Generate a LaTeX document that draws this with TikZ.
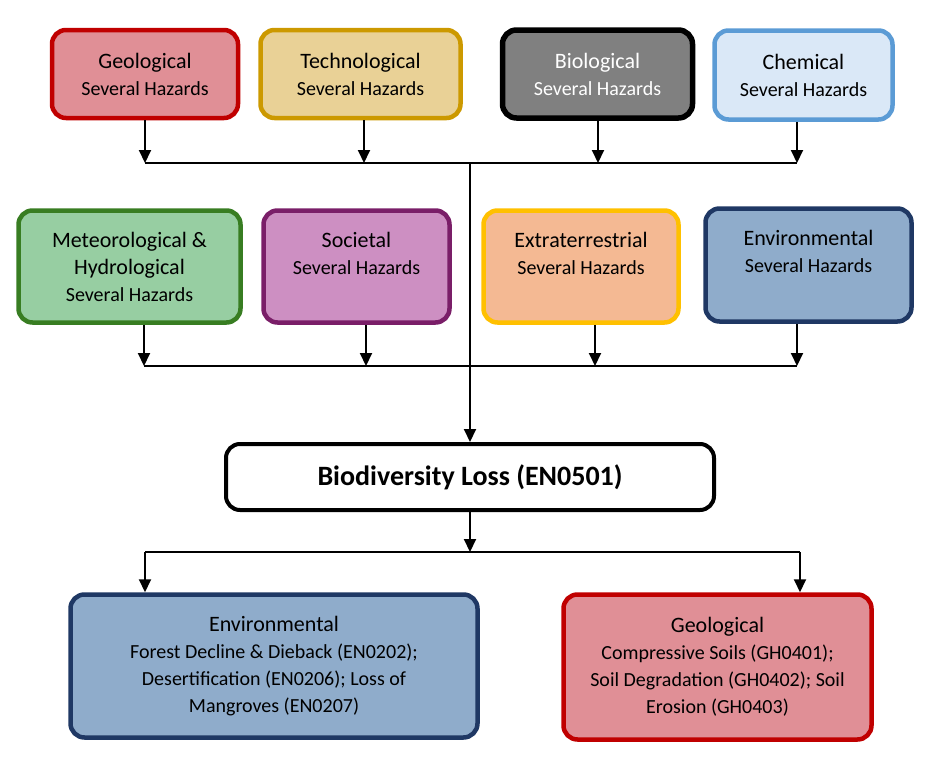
\documentclass[tikz,border=0pt]{standalone}
\usepackage{fontspec}
\setmainfont{Carlito}
\usetikzlibrary{arrows.meta}
\definecolor{geod}{RGB}{192,0,0}
\definecolor{geof}{RGB}{224,143,150}
\definecolor{techd}{RGB}{204,153,0}
\definecolor{techf}{RGB}{233,209,150}
\definecolor{biof}{RGB}{128,128,128}
\definecolor{chemd}{RGB}{91,155,213}
\definecolor{chemf}{RGB}{218,232,247}
\definecolor{metd}{RGB}{56,125,34}
\definecolor{metf}{RGB}{151,206,162}
\definecolor{socd}{RGB}{122,30,104}
\definecolor{socf}{RGB}{205,143,194}
\definecolor{extd}{RGB}{255,192,0}
\definecolor{extf}{RGB}{244,185,147}
\definecolor{envd}{RGB}{31,56,100}
\definecolor{envf}{RGB}{143,172,203}
\tikzset{hz/.style={draw,rounded corners=14pt,line width=4.5pt,align=center,font=\fontsize{20}{27}\selectfont,inner sep=0pt},lossbox/.style={hz,draw=black,fill=white,line width=4pt,font=\fontsize{28}{32}\selectfont\bfseries},flow/.style={-{Triangle[length=13pt,width=12pt]},line width=2pt},bus/.style={line width=2pt}}
\newcommand{\hd}[1]{{\fontsize{22}{28}\selectfont #1}}

\begin{document}
\begin{tikzpicture}[x=1pt,y=-1pt]
\useasboundingbox (0,0) rectangle (935,758);
% hazard families
\node[hz,draw=geod,fill=geof,minimum width=186,minimum height=88] (geo) at (145,74) {\hd{Geological}\\Several Hazards};
\node[hz,draw=techd,fill=techf,minimum width=200,minimum height=88] (tech) at (360.5,74) {\hd{Technological}\\Several Hazards};
\node[hz,draw=black,fill=biof,text=white,line width=5.5pt,minimum width=190,minimum height=88] (bio) at (597.5,74) {\hd{Biological}\\Several Hazards};
\node[hz,draw=chemd,fill=chemf,minimum width=178,minimum height=89] (chem) at (803.5,75) {\hd{Chemical}\\Several Hazards};
\node[hz,draw=metd,fill=metf,minimum width=222,minimum height=112] (met) at (129.5,266.5) {\hd{Meteorological \&}\\\hd{Hydrological}\\Several Hazards};
\node[hz,draw=socd,fill=socf,minimum width=186,minimum height=112] (soc) at (356.5,266.5) {\hd{Societal}\\Several Hazards\\\mbox{}};
\node[hz,draw=extd,fill=extf,minimum width=195,minimum height=112] (ext) at (581,266.5) {\hd{Extraterrestrial}\\Several Hazards\\\mbox{}};
\node[hz,draw=envd,fill=envf,minimum width=206,minimum height=113] (env) at (808.5,265) {\hd{Environmental}\\Several Hazards\\\mbox{}};
% main hazard
\node[lossbox,minimum width=488,minimum height=66] (loss) at (470,477) {Biodiversity Loss (EN0501)};
% consequences
\node[hz,draw=envd,fill=envf,minimum width=407,minimum height=143] (envb) at (274,666) {\hd{Environmental}\\Forest Decline \& Dieback (EN0202);\\Desertification (EN0206); Loss of\\Mangroves (EN0207)};
\node[hz,draw=geod,fill=geof,minimum width=308,minimum height=145] (geob) at (717.5,667) {\hd{Geological}\\Compressive Soils (GH0401);\\Soil Degradation (GH0402); Soil\\Erosion (GH0403)};
% buses
\coordinate (ta) at (145,163);\coordinate (tb) at (364,163);\coordinate (tc) at (598,163);\coordinate (td) at (797,163);\coordinate (tm) at (470,163);
\coordinate (ma) at (144,366);\coordinate (mb) at (366,366);\coordinate (mc) at (595,366);\coordinate (md) at (797,366);
\coordinate (ba) at (145,552);\coordinate (bm) at (470,552);\coordinate (bb) at (800,552);
\draw[bus] (ta)--(td);\draw[bus] (ma)--(md);\draw[bus] (ba)--(bb);
\draw[flow] (geo.south-|ta)--(ta);\draw[flow] (tech.south-|tb)--(tb);\draw[flow] (bio.south-|tc)--(tc);\draw[flow] (chem.south-|td)--(td);
\draw[flow] (met.south-|ma)--(ma);\draw[flow] (soc.south-|mb)--(mb);\draw[flow] (ext.south-|mc)--(mc);\draw[flow] (env.south-|md)--(md);
\draw[flow] (tm)--(loss.north);\draw[flow] (loss.south)--(bm);
\draw[flow] (ba)--(envb.north-|ba);\draw[flow] (bb)--(geob.north-|bb);
\end{tikzpicture}
\end{document}
